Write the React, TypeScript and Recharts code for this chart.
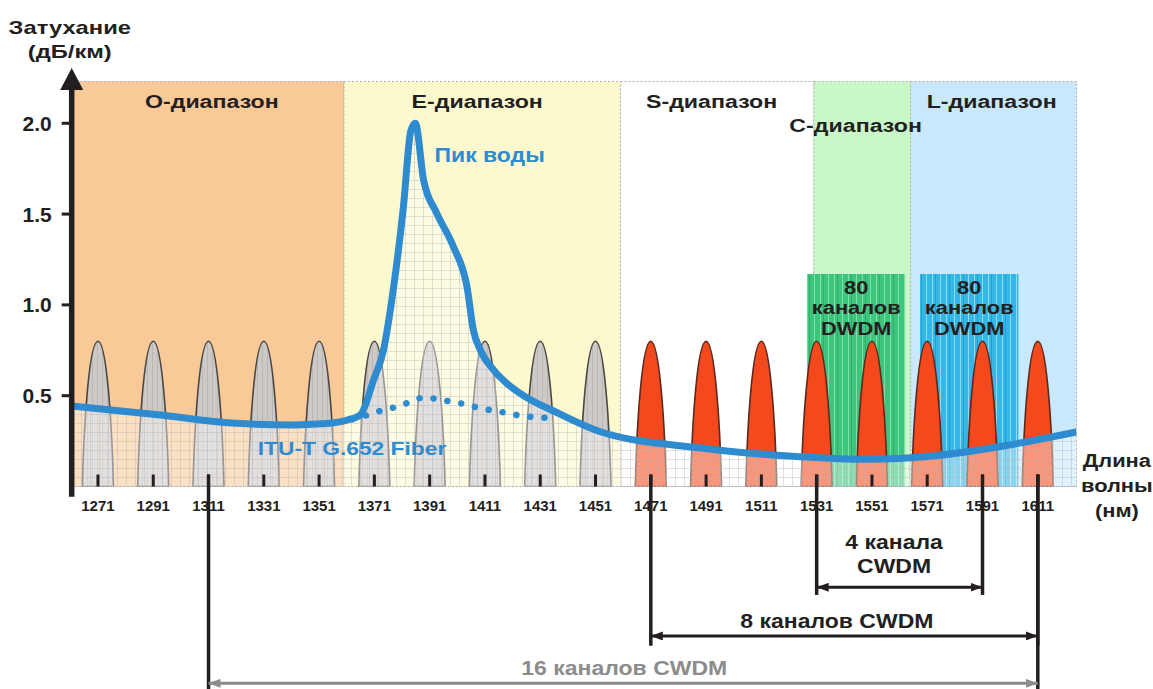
import React from "react"
import {
  ComposedChart,
  Bar,
  Line,
  Area,
  XAxis,
  YAxis,
  ReferenceArea,
  ReferenceLine,
  ReferenceDot,
} from "recharts"

const FONT = '"Liberation Sans", Arial, Helvetica, sans-serif'
const INK = "#231f20"
const BLUE = "#2f8bcf"
const GREY_TEXT = "#8c8c8c"
const PEAK_PX = 31 // base width of a CWDM peak

// CWDM grid (nm) and the drawn peak height
const cwdmChannels = [1271, 1291, 1311, 1331, 1351, 1371, 1391, 1411, 1431, 1451, 1471, 1491, 1511, 1531, 1551, 1571, 1591, 1611]
const channelPeaks = [0.8, 0.8, 0.8, 0.8, 0.8, 0.8, 0.8, 0.8, 0.8, 0.8, 0.8, 0.8, 0.8, 0.8, 0.8, 0.8, 0.8, 0.8]
const firstRedChannel = 1471

// spectral bands
const bandNames = ["O-диапазон", "E-диапазон", "S-диапазон", "C-диапазон", "L-диапазон"]
const bandStart = [1261.5, 1360, 1460, 1530, 1565]
const bandEnd = [1360, 1460, 1530, 1565, 1625]
const bandFill = ["#f9c997", "#fcf9cf", "#ffffff", "#c9f8c8", "#c9e8fb"]
const bandLabelNm = [1312.2, 1408.2, 1493, 1545.1, 1594.3]
const bandLabelDb = [2.086, 2.086, 2.086, 1.954, 2.086]

// DWDM blocks
const dwdmStart = [1527.6, 1568.4]
const dwdmEnd = [1563, 1604]
const dwdmTop = [1.17, 1.17]
const dwdmPattern = ["url(#dwdmGreen)", "url(#dwdmBlue)"]
const dwdmText = ["80", "каналов", "DWDM"]

// G.652 attenuation curve (dB/km)
const attenuationNm = [1261.5, 1293.5, 1317.7, 1341.6, 1352, 1361.1, 1365.9, 1370.7, 1374.3, 1377.3, 1381.5, 1384.2, 1385.8, 1388.8, 1393.6, 1399.6, 1404.5, 1406.8, 1409.3, 1414.1, 1418.9, 1423.7, 1438, 1453, 1489, 1525, 1549, 1573, 1597, 1625]
const attenuationDb = [0.443, 0.394, 0.351, 0.339, 0.345, 0.366, 0.394, 0.586, 0.752, 1.027, 1.54, 1.96, 2.0, 1.688, 1.504, 1.32, 1.1, 0.862, 0.752, 0.642, 0.568, 0.513, 0.4, 0.3, 0.212, 0.164, 0.15, 0.168, 0.219, 0.3]

// low water peak fibre (dotted)
const lowWaterNm = [1363, 1368.6, 1374, 1378.8, 1383.7, 1389.2, 1395.2, 1400, 1404.8, 1410.2, 1415, 1419.9, 1427, 1434]
const lowWaterDb = [0.37, 0.394, 0.421, 0.438, 0.464, 0.491, 0.476, 0.464, 0.449, 0.427, 0.417, 0.4, 0.385, 0.377]

// CWDM groupings drawn under the axis
const spanLabels = [["4 канала", "CWDM"], ["8 каналов CWDM"], ["16 каналов CWDM"]]
const spanFrom = [1531, 1471, 1311]
const spanTo = [1591, 1611, 1611]
const spanLevel = [-0.555, -0.823, -1.084]
const spanDrop = [-0.597, -0.877, -1.115]
const spanLabelNm = [1559, 1538.3, 1461.4]
const spanLabelDb = [-0.344, -0.7775, -1.038]
const spanColor = [INK, INK, GREY_TEXT]

const yTicks = [0.5, 1, 1.5, 2]
const tickTop = 0.066

const channelData = cwdmChannels.map((nm, i) => ({ nm, peak: channelPeaks[i] }))
const attenuation = attenuationNm.map((nm, i) => ({ nm, db: attenuationDb[i] }))
const lowWater = lowWaterNm.map((nm, i) => ({ nm, db: lowWaterDb[i] }))

function PeakShape(props: any) {
  const { x, y, width, height: h, payload } = props
  if (!h) return null
  const w = PEAK_PX
  const l = x + width / 2 - w / 2
  const b = y + h
  const red = payload.nm >= firstRedChannel
  const d = `M${l},${b} C${l + 0.05 * w},${b - 0.45 * h} ${l + 0.223 * w},${y} ${l + 0.5 * w},${y} C${l + 0.777 * w},${y} ${l + 0.95 * w},${b - 0.45 * h} ${l + w},${b} Z`
  return (
    <path
      d={d}
      fill={red ? "#f4491c" : "url(#greyPeak)"}
      stroke={red ? "#5a2a1e" : "#4b4745"}
      strokeWidth={1.6}
    />
  )
}

function textBlock(lines: string[], color = INK, size = 19, stretch = 1.2, lh = 21) {
  return (props: any) => {
    const vb = props.viewBox || {}
    const cx = (vb.x || 0) + (vb.width || 0) / 2
    const cy = (vb.y || 0) + (vb.height || 0) / 2
    return (
      <g transform={`translate(${cx},${cy}) scale(${stretch},1)`}>
        <text textAnchor="middle" fill={color} fontSize={size} fontWeight={700} fontFamily={FONT}>
          {lines.map((l, i) => (
            <tspan key={i} x={0} y={i * lh}>
              {l}
            </tspan>
          ))}
        </text>
      </g>
    )
  }
}

function arrowShape(color: string, width: number, marker: string, both: boolean) {
  return (p: any) => (
    <line
      x1={p.x1}
      y1={p.y1}
      x2={p.x2}
      y2={p.y2}
      stroke={color}
      strokeWidth={width}
      markerStart={both ? `url(#${marker})` : undefined}
      markerEnd={`url(#${marker})`}
    />
  )
}

function Defs() {
  return (
    <svg width={0} height={0} style={{ position: "absolute" }}>
      <defs>
        <pattern id="greyPeak" width={5} height={5} patternUnits="userSpaceOnUse">
          <rect width={5} height={5} fill="#cdc9c6" />
          <path d="M2.5 0 V5" stroke="#bcb7b4" strokeWidth={1} />
        </pattern>
        <pattern id="underCurve" width={9} height={9} patternUnits="userSpaceOnUse">
          <rect width={9} height={9} fill="#ffffff" fillOpacity={0.42} />
          <path d="M0 0.5 H9 M0.5 0 V9" stroke="#b4b4b4" strokeOpacity={0.4} strokeWidth={1} />
        </pattern>
        <pattern id="dwdmGreen" width={14} height={10} patternUnits="userSpaceOnUse">
          <rect width={14} height={10} fill="#3ec57d" />
          <path d="M2.5 0 V10 M8.5 0 V10" stroke="#80dea8" strokeWidth={1} />
          <path d="M11.5 0 V10" stroke="#2eb06a" strokeWidth={1} />
        </pattern>
        <pattern id="dwdmBlue" width={14} height={10} patternUnits="userSpaceOnUse">
          <rect width={14} height={10} fill="#34b6e7" />
          <path d="M2.5 0 V10 M8.5 0 V10" stroke="#91d8f3" strokeWidth={1} />
          <path d="M11.5 0 V10" stroke="#229fd3" strokeWidth={1} />
        </pattern>
        <marker id="axisHead" markerUnits="userSpaceOnUse" markerWidth={22} markerHeight={23} refX={3} refY={11.5} orient="auto">
          <path d="M0,0 L22,11.5 L0,23 Z" fill={INK} />
        </marker>
        <marker id="headInk" markerUnits="userSpaceOnUse" markerWidth={13} markerHeight={9} refX={12} refY={4.5} orient="auto-start-reverse">
          <path d="M0,0 L12,4.5 L0,9 Z" fill={INK} />
        </marker>
        <marker id="headGrey" markerUnits="userSpaceOnUse" markerWidth={13} markerHeight={9} refX={12} refY={4.5} orient="auto-start-reverse">
          <path d="M0,0 L12,4.5 L0,9 Z" fill={GREY_TEXT} />
        </marker>
      </defs>
    </svg>
  )
}

export default function App() {
  return (
    <div style={{ position: "absolute", left: 0, top: 0, width: 1153, height: 689, background: "#fff" }}>
      <Defs />
      <ComposedChart
        width={1153}
        height={689}
        data={channelData}
        margin={{ top: 68.8, right: 76.5, bottom: 172.5, left: 11.7 }}
      >
        <XAxis
          type="number"
          dataKey="nm"
          domain={[1261.5, 1625]}
          allowDataOverflow
          ticks={cwdmChannels}
          interval={0}
          height={30}
          tickSize={6}
          tickMargin={8}
          tickLine={false}
          axisLine={{ stroke: "#b5b5b5", strokeDasharray: "2 2" }}
          tick={{ fontSize: 15, fontWeight: 700, fill: INK, fontFamily: FONT }}
        />
        <YAxis
          type="number"
          domain={[0, 2.3]}
          allowDataOverflow
          ticks={yTicks}
          width={60}
          tickSize={10}
          tickMargin={10}
          axisLine={false}
          tickLine={{ stroke: INK, strokeWidth: 3 }}
          tickFormatter={(v: number) => v.toFixed(1)}
          tick={{ fontSize: 21, fontWeight: 700, fill: INK, fontFamily: FONT }}
        />

        {/* bands */}
        {bandNames.map((name, i) => (
          <ReferenceArea
            key={name}
            x1={bandStart[i]}
            x2={bandEnd[i]}
            y1={0}
            y2={2.23}
            fill={bandFill[i]}
            fillOpacity={1}
            stroke="#b0b0b0"
            strokeDasharray="2 2"
            ifOverflow="visible"
            zIndex={-90}
          />
        ))}

        {/* DWDM blocks */}
        {dwdmStart.map((s, i) => (
          <ReferenceArea
            key={"dwdm" + i}
            x1={s}
            x2={dwdmEnd[i]}
            y1={0}
            y2={dwdmTop[i]}
            fill={dwdmPattern[i]}
            fillOpacity={1}
            stroke="none"
            ifOverflow="visible"
            zIndex={-80}
          />
        ))}

        {/* CWDM channels */}
        <Bar dataKey="peak" barSize={31} shape={PeakShape} isAnimationActive={false} zIndex={300} />

        {/* area under the attenuation curve */}
        <Area
          data={attenuation}
          dataKey="db"
          type="monotone"
          stroke="none"
          fill="url(#underCurve)"
          fillOpacity={1}
          isAnimationActive={false}
          dot={false}
          activeDot={false}
          zIndex={350}
        />
        <Line
          data={lowWater}
          dataKey="db"
          type="monotone"
          stroke={BLUE}
          strokeWidth={6.5}
          strokeDasharray="0.1 14"
          strokeLinecap="round"
          dot={false}
          activeDot={false}
          isAnimationActive={false}
          zIndex={400}
        />
        <Line
          data={attenuation}
          dataKey="db"
          type="monotone"
          stroke={BLUE}
          strokeWidth={7}
          strokeLinejoin="round"
          dot={false}
          activeDot={false}
          isAnimationActive={false}
          zIndex={410}
        />

        {/* axis with arrow */}
        <ReferenceLine
          segment={[{ x: 1261.5, y: -0.057 }, { x: 1261.5, y: 2.2 }]}
          ifOverflow="visible"
          shape={(p: any) => (
            <line x1={p.x1} y1={p.y1} x2={p.x2} y2={p.y2} stroke={INK} strokeWidth={5.5} markerEnd="url(#axisHead)" />
          )}
          zIndex={500}
        />

        {/* small channel ticks */}
        {cwdmChannels.map((nm) => (
          <ReferenceLine
            key={"tick" + nm}
            segment={[{ x: nm, y: 0 }, { x: nm, y: tickTop }]}
            stroke={INK}
            strokeWidth={3}
            ifOverflow="visible"
            zIndex={500}
          />
        ))}

        {/* CWDM groupings */}
        {spanFrom.map((from, i) => (
          <React.Fragment key={"span" + i}>
            <ReferenceLine
              segment={[{ x: from, y: tickTop }, { x: from, y: spanDrop[i] }]}
              stroke={INK}
              strokeWidth={3.5}
              ifOverflow="visible"
              zIndex={500}
            />
            <ReferenceLine
              segment={[{ x: spanTo[i], y: tickTop }, { x: spanTo[i], y: spanDrop[i] }]}
              stroke={INK}
              strokeWidth={3.5}
              ifOverflow="visible"
              zIndex={500}
            />
            <ReferenceLine
              segment={[{ x: from, y: spanLevel[i] }, { x: spanTo[i], y: spanLevel[i] }]}
              ifOverflow="visible"
              shape={arrowShape(spanColor[i], 3, i === 2 ? "headGrey" : "headInk", true)}
              zIndex={500}
            />
            <ReferenceDot
              x={spanLabelNm[i]}
              y={spanLabelDb[i]}
              r={0}
              fill="none"
              stroke="none"
              ifOverflow="visible"
              label={textBlock(spanLabels[i], spanColor[i], 20, 1.15, 23.7)}
              zIndex={600}
            />
          </React.Fragment>
        ))}

        {/* band names */}
        {bandNames.map((name, i) => (
          <ReferenceDot
            key={"bl" + name}
            x={bandLabelNm[i]}
            y={bandLabelDb[i]}
            r={0}
            fill="none"
            stroke="none"
            ifOverflow="visible"
            label={textBlock([name], INK, 19, 1.22)}
            zIndex={600}
          />
        ))}

        {/* DWDM captions */}
        {dwdmStart.map((s, i) => (
          <ReferenceDot
            key={"dl" + i}
            x={(s + dwdmEnd[i]) / 2}
            y={1.06}
            r={0}
            fill="none"
            stroke="none"
            ifOverflow="visible"
            label={textBlock(dwdmText, INK, 19, 1.15, 20.5)}
            zIndex={600}
          />
        ))}

        <ReferenceDot
          x={1412.7}
          y={1.789}
          r={0}
          fill="none"
          stroke="none"
          ifOverflow="visible"
          label={textBlock(["Пик воды"], BLUE, 20, 1.15)}
          zIndex={600}
        />
        <ReferenceDot
          x={1362.9}
          y={0.173}
          r={0}
          fill="none"
          stroke="none"
          ifOverflow="visible"
          label={textBlock(["ITU-T G.652 Fiber"], BLUE, 19, 1.2)}
          zIndex={600}
        />

        {/* axis titles */}
        <ReferenceDot
          x={1260.8}
          y={2.492}
          r={0}
          fill="none"
          stroke="none"
          ifOverflow="visible"
          label={textBlock(["Затухание", "(дБ/км)"], INK, 19, 1.25, 24.5)}
          zIndex={600}
        />
        <ReferenceDot
          x={1639.6}
          y={0.107}
          r={0}
          fill="none"
          stroke="none"
          ifOverflow="visible"
          label={textBlock(["Длина", "волны", "(нм)"], INK, 19, 1.15, 25)}
          zIndex={600}
        />
      </ComposedChart>
    </div>
  )
}
